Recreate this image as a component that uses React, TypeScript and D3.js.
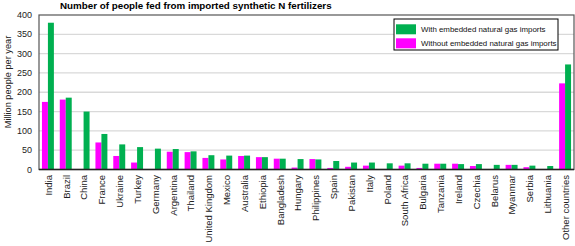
import * as d3 from 'd3';

const countries = [
  'India', 'Brazil', 'China', 'France', 'Ukraine', 'Turkey', 'Germany', 'Argentina',
  'Thailand', 'United Kingdom', 'Mexico', 'Australia', 'Ethiopia', 'Bangladesh', 'Hungary',
  'Philippines', 'Spain', 'Pakistan', 'Italy', 'Poland', 'South Africa', 'Bulgaria',
  'Tanzania', 'Ireland', 'Czechia', 'Belarus', 'Myanmar', 'Serbia', 'Lithuania', 'Other countries',
];

// without embedded natural gas imports (magenta)
const withoutGas = [
  175, 181, 0, 70, 35, 18, 0, 46, 45, 30, 26, 35, 32, 28, 5,
  27, 4, 7, 10, 0, 10, 4, 15, 15, 9, 0, 12, 6, 0, 223,
];

// with embedded natural gas imports (green)
const withGas = [
  380, 186, 150, 92, 65, 58, 54, 53, 47, 37, 36, 36, 32, 28, 27,
  26, 22, 18, 18, 16, 16, 15, 15, 14, 14, 12, 12, 10, 9, 272,
];

const yTicks = [0, 50, 100, 150, 200, 250, 300, 350, 400];

const seriesKeys = ['without', 'with'];
const seriesLabels = ['With embedded natural gas imports', 'Without embedded natural gas imports'];
const GREEN = '#00b050';
const MAGENTA = '#ff00ff';

const W = 575;
const H = 246;
const left = 39;
const right = 574;
const top = 15;
const bottom = 169.5;
const font = '"Liberation Sans", Arial, sans-serif';

export default function App() {
  const x = d3.scaleBand<string>().domain(countries).range([left, right]).paddingInner(0.33).paddingOuter(0.165);
  const xs = d3.scaleBand<string>().domain(seriesKeys).range([0, x.bandwidth()]);
  const y = d3.scaleLinear().domain([0, 400]).range([bottom, top]);

  return (
    <svg width={W} height={H} style={{ position: 'absolute', left: 0, top: 0 }} fontFamily={font}>
      <text x={60} y={8.5} fontSize={9.8} fontWeight="bold" fill="#000">
        Number of people fed from imported synthetic N fertilizers
      </text>

      {/* gridlines */}
      {yTicks.slice(1, -1).map((t) => (
        <line key={t} x1={left} x2={right} y1={y(t)} y2={y(t)} stroke="#d9d9d9" strokeWidth={1.3} />
      ))}

      {/* bars */}
      {countries.map((c, i) => (
        <g key={c} transform={`translate(${x(c)},0)`}>
          {withoutGas[i] > 0 && (
            <rect x={xs('without')} y={y(withoutGas[i])} width={xs.bandwidth()} height={y(0) - y(withoutGas[i])} fill={MAGENTA} />
          )}
          <rect x={xs('with')} y={y(withGas[i])} width={xs.bandwidth()} height={y(0) - y(withGas[i])} fill={GREEN} />
        </g>
      ))}

      {/* frame */}
      <rect x={left} y={top} width={right - left} height={bottom - top} fill="none" stroke="#555" strokeWidth={1.2} />
      <line x1={left} x2={right} y1={bottom} y2={bottom} stroke="#222" strokeWidth={1.3} />

      {/* y ticks */}
      {yTicks.map((t) => (
        <text key={t} x={32} y={y(t)} dy="0.35em" textAnchor="end" fontSize={9} fill="#222">
          {t}
        </text>
      ))}
      <text
        transform={`translate(8,82) rotate(-90)`}
        textAnchor="middle"
        dy="0.35em"
        fontSize={9.2}
        fill="#222"
      >
        Million people per year
      </text>

      {/* x labels */}
      {countries.map((c) => (
        <text
          key={c}
          transform={`translate(${(x(c) ?? 0) + x.bandwidth() / 2 + 0.5},175) rotate(-90)`}
          textAnchor="end"
          dy="0.35em"
          fontSize={9.5}
          fill="#222"
        >
          {c}
        </text>
      ))}

      {/* legend */}
      <rect x={394} y={19} width={164} height={31} fill="#fff" stroke="#000" strokeWidth={1} />
      {[GREEN, MAGENTA].map((col, i) => (
        <g key={col}>
          <rect x={396} y={24.3 + i * 14} width={20} height={10} fill={col} />
          <text x={421} y={29.5 + i * 14} dy="0.35em" fontSize={7.9} fill="#111">
            {seriesLabels[i]}
          </text>
        </g>
      ))}
    </svg>
  );
}
